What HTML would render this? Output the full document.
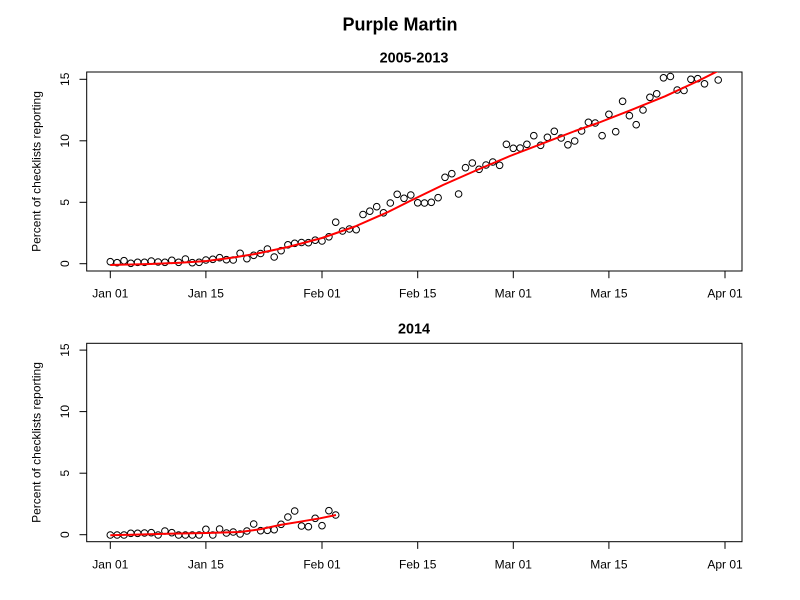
<!DOCTYPE html>
<html>
<head>
<meta charset="utf-8">
<style>
html,body{margin:0;padding:0;background:#fff;}
svg{display:block;}
text{font-family:"Liberation Sans",Arial,sans-serif;fill:#000;}
</style>
</head>
<body>
<svg width="800" height="600" viewBox="0 0 800 600" xmlns="http://www.w3.org/2000/svg">
<defs>
<clipPath id="c1"><rect x="86.7" y="72" width="655.3" height="199"/></clipPath>
<clipPath id="c2"><rect x="86.7" y="343.3" width="655.3" height="198.4"/></clipPath>
</defs>
<rect width="800" height="600" fill="#fff"/>
<text x="400" y="30.5" font-size="18" font-weight="bold" text-anchor="middle">Purple Martin</text>
<text x="414" y="62.3" font-size="14.4" font-weight="bold" text-anchor="middle">2005-2013</text>
<rect x="86.7" y="72" width="655.3" height="199" fill="none" stroke="#000" stroke-width="1"/>
<g stroke="#000" stroke-width="1">
<line x1="79.5" y1="263.7" x2="86.7" y2="263.7"/>
<line x1="79.5" y1="202.3" x2="86.7" y2="202.3"/>
<line x1="79.5" y1="140.8" x2="86.7" y2="140.8"/>
<line x1="79.5" y1="79.3" x2="86.7" y2="79.3"/>
<line x1="110.3" y1="271" x2="110.3" y2="278.2"/>
<line x1="205.9" y1="271" x2="205.9" y2="278.2"/>
<line x1="322" y1="271" x2="322" y2="278.2"/>
<line x1="417.7" y1="271" x2="417.7" y2="278.2"/>
<line x1="513.3" y1="271" x2="513.3" y2="278.2"/>
<line x1="608.9" y1="271" x2="608.9" y2="278.2"/>
<line x1="725" y1="271" x2="725" y2="278.2"/>
</g>
<g font-size="12" text-anchor="middle">
<text transform="translate(69,263.7) rotate(-90)">0</text>
<text transform="translate(69,202.3) rotate(-90)">5</text>
<text transform="translate(69,140.8) rotate(-90)">10</text>
<text transform="translate(69,79.3) rotate(-90)">15</text>
<text transform="translate(40.3,171.5) rotate(-90)">Percent of checklists reporting</text>
<text x="110.3" y="297.7">Jan 01</text>
<text x="205.9" y="297.7">Jan 15</text>
<text x="322" y="297.7">Feb 01</text>
<text x="417.7" y="297.7">Feb 15</text>
<text x="513.3" y="297.7">Mar 01</text>
<text x="608.9" y="297.7">Mar 15</text>
<text x="725" y="297.7">Apr 01</text>
</g>
<g fill="none" stroke="#000" stroke-width="1">
<circle cx="110.3" cy="261.7" r="3.3"/>
<circle cx="117.1" cy="262.7" r="3.3"/>
<circle cx="124.0" cy="260.7" r="3.3"/>
<circle cx="130.8" cy="263.3" r="3.3"/>
<circle cx="137.6" cy="262.3" r="3.3"/>
<circle cx="144.5" cy="262.3" r="3.3"/>
<circle cx="151.3" cy="261" r="3.3"/>
<circle cx="158.1" cy="262" r="3.3"/>
<circle cx="164.9" cy="262.3" r="3.3"/>
<circle cx="171.8" cy="260.3" r="3.3"/>
<circle cx="178.6" cy="262.3" r="3.3"/>
<circle cx="185.4" cy="259" r="3.3"/>
<circle cx="192.3" cy="262.7" r="3.3"/>
<circle cx="199.1" cy="262.3" r="3.3"/>
<circle cx="205.9" cy="260" r="3.3"/>
<circle cx="212.8" cy="259.3" r="3.3"/>
<circle cx="219.6" cy="257.7" r="3.3"/>
<circle cx="226.4" cy="259.7" r="3.3"/>
<circle cx="233.2" cy="260" r="3.3"/>
<circle cx="240.1" cy="253.3" r="3.3"/>
<circle cx="246.9" cy="258.7" r="3.3"/>
<circle cx="253.7" cy="255.3" r="3.3"/>
<circle cx="260.6" cy="253.5" r="3.3"/>
<circle cx="267.4" cy="249" r="3.3"/>
<circle cx="274.2" cy="257" r="3.3"/>
<circle cx="281.1" cy="250.7" r="3.3"/>
<circle cx="287.9" cy="244.8" r="3.3"/>
<circle cx="294.7" cy="243.3" r="3.3"/>
<circle cx="301.5" cy="242.5" r="3.3"/>
<circle cx="308.4" cy="242.7" r="3.3"/>
<circle cx="315.2" cy="240.2" r="3.3"/>
<circle cx="322.0" cy="241" r="3.3"/>
<circle cx="328.9" cy="236.8" r="3.3"/>
<circle cx="335.7" cy="222.2" r="3.3"/>
<circle cx="342.5" cy="231" r="3.3"/>
<circle cx="349.4" cy="229" r="3.3"/>
<circle cx="356.2" cy="229.7" r="3.3"/>
<circle cx="363.0" cy="214.5" r="3.3"/>
<circle cx="369.8" cy="211.2" r="3.3"/>
<circle cx="376.7" cy="206.7" r="3.3"/>
<circle cx="383.5" cy="212.8" r="3.3"/>
<circle cx="390.3" cy="203" r="3.3"/>
<circle cx="397.2" cy="194.3" r="3.3"/>
<circle cx="404.0" cy="198.3" r="3.3"/>
<circle cx="410.8" cy="195" r="3.3"/>
<circle cx="417.7" cy="202.8" r="3.3"/>
<circle cx="424.5" cy="203" r="3.3"/>
<circle cx="431.3" cy="202.3" r="3.3"/>
<circle cx="438.1" cy="197.7" r="3.3"/>
<circle cx="445.0" cy="177.3" r="3.3"/>
<circle cx="451.8" cy="173.7" r="3.3"/>
<circle cx="458.6" cy="194" r="3.3"/>
<circle cx="465.5" cy="167.7" r="3.3"/>
<circle cx="472.3" cy="163" r="3.3"/>
<circle cx="479.1" cy="169.3" r="3.3"/>
<circle cx="486.0" cy="165" r="3.3"/>
<circle cx="492.8" cy="162" r="3.3"/>
<circle cx="499.6" cy="165.3" r="3.3"/>
<circle cx="506.4" cy="144.3" r="3.3"/>
<circle cx="513.3" cy="148.3" r="3.3"/>
<circle cx="520.1" cy="148" r="3.3"/>
<circle cx="526.9" cy="144.3" r="3.3"/>
<circle cx="533.8" cy="135.7" r="3.3"/>
<circle cx="540.6" cy="145.3" r="3.3"/>
<circle cx="547.4" cy="137.3" r="3.3"/>
<circle cx="554.3" cy="131.3" r="3.3"/>
<circle cx="561.1" cy="138" r="3.3"/>
<circle cx="567.9" cy="144.8" r="3.3"/>
<circle cx="574.7" cy="141" r="3.3"/>
<circle cx="581.6" cy="131" r="3.3"/>
<circle cx="588.4" cy="122.3" r="3.3"/>
<circle cx="595.2" cy="123" r="3.3"/>
<circle cx="602.1" cy="135.7" r="3.3"/>
<circle cx="608.9" cy="114.3" r="3.3"/>
<circle cx="615.7" cy="131.7" r="3.3"/>
<circle cx="622.6" cy="101.3" r="3.3"/>
<circle cx="629.4" cy="115.7" r="3.3"/>
<circle cx="636.2" cy="124.7" r="3.3"/>
<circle cx="643.0" cy="110" r="3.3"/>
<circle cx="649.9" cy="97.3" r="3.3"/>
<circle cx="656.7" cy="93.8" r="3.3"/>
<circle cx="663.5" cy="77.8" r="3.3"/>
<circle cx="670.4" cy="76.5" r="3.3"/>
<circle cx="677.2" cy="90" r="3.3"/>
<circle cx="684.0" cy="90.5" r="3.3"/>
<circle cx="690.9" cy="79.3" r="3.3"/>
<circle cx="697.7" cy="78.7" r="3.3"/>
<circle cx="704.5" cy="83.8" r="3.3"/>
<circle cx="718.2" cy="80" r="3.3"/>
</g>
<path clip-path="url(#c1)" fill="none" stroke="#ff0000" stroke-width="2" stroke-linejoin="round" d="M110.3,265 L150,264 L180,262.7 L206.7,261 L233.3,257.5 L255,254 L288,247 L322,238 L355,226.5 L388,212 L410,201 L443,185 L477,170 L510,156 L543,143.3 L575,131 L598,123 L632,109.7 L665,96.3 L698,81 L722,69"/>
<text x="414" y="333.6" font-size="14.4" font-weight="bold" text-anchor="middle">2014</text>
<rect x="86.7" y="343.3" width="655.3" height="198.4" fill="none" stroke="#000" stroke-width="1"/>
<g stroke="#000" stroke-width="1">
<line x1="79.5" y1="534.7" x2="86.7" y2="534.7"/>
<line x1="79.5" y1="473.2" x2="86.7" y2="473.2"/>
<line x1="79.5" y1="411.6" x2="86.7" y2="411.6"/>
<line x1="79.5" y1="350.1" x2="86.7" y2="350.1"/>
<line x1="110.3" y1="541.7" x2="110.3" y2="548.9"/>
<line x1="205.9" y1="541.7" x2="205.9" y2="548.9"/>
<line x1="322" y1="541.7" x2="322" y2="548.9"/>
<line x1="417.7" y1="541.7" x2="417.7" y2="548.9"/>
<line x1="513.3" y1="541.7" x2="513.3" y2="548.9"/>
<line x1="608.9" y1="541.7" x2="608.9" y2="548.9"/>
<line x1="725" y1="541.7" x2="725" y2="548.9"/>
</g>
<g font-size="12" text-anchor="middle">
<text transform="translate(69,534.7) rotate(-90)">0</text>
<text transform="translate(69,473.2) rotate(-90)">5</text>
<text transform="translate(69,411.6) rotate(-90)">10</text>
<text transform="translate(69,350.1) rotate(-90)">15</text>
<text transform="translate(40.3,442.5) rotate(-90)">Percent of checklists reporting</text>
<text x="110.3" y="568.4">Jan 01</text>
<text x="205.9" y="568.4">Jan 15</text>
<text x="322" y="568.4">Feb 01</text>
<text x="417.7" y="568.4">Feb 15</text>
<text x="513.3" y="568.4">Mar 01</text>
<text x="608.9" y="568.4">Mar 15</text>
<text x="725" y="568.4">Apr 01</text>
</g>
<g fill="none" stroke="#000" stroke-width="1">
<circle cx="110.3" cy="535" r="3.3"/>
<circle cx="117.1" cy="535" r="3.3"/>
<circle cx="124.0" cy="535" r="3.3"/>
<circle cx="130.8" cy="533.3" r="3.3"/>
<circle cx="137.6" cy="533.3" r="3.3"/>
<circle cx="144.5" cy="533" r="3.3"/>
<circle cx="151.3" cy="532.7" r="3.3"/>
<circle cx="158.1" cy="535" r="3.3"/>
<circle cx="164.9" cy="531" r="3.3"/>
<circle cx="171.8" cy="532.7" r="3.3"/>
<circle cx="178.6" cy="535" r="3.3"/>
<circle cx="185.4" cy="535" r="3.3"/>
<circle cx="192.3" cy="535" r="3.3"/>
<circle cx="199.1" cy="535" r="3.3"/>
<circle cx="205.9" cy="529.3" r="3.3"/>
<circle cx="212.8" cy="535" r="3.3"/>
<circle cx="219.6" cy="529" r="3.3"/>
<circle cx="226.4" cy="533" r="3.3"/>
<circle cx="233.2" cy="532" r="3.3"/>
<circle cx="240.1" cy="534" r="3.3"/>
<circle cx="246.9" cy="531" r="3.3"/>
<circle cx="253.7" cy="524" r="3.3"/>
<circle cx="260.6" cy="530.7" r="3.3"/>
<circle cx="267.4" cy="530.3" r="3.3"/>
<circle cx="274.2" cy="529.7" r="3.3"/>
<circle cx="281.1" cy="524.3" r="3.3"/>
<circle cx="287.9" cy="517" r="3.3"/>
<circle cx="294.7" cy="511" r="3.3"/>
<circle cx="301.5" cy="526" r="3.3"/>
<circle cx="308.4" cy="526.7" r="3.3"/>
<circle cx="315.2" cy="518.3" r="3.3"/>
<circle cx="322.0" cy="525.7" r="3.3"/>
<circle cx="328.9" cy="510.7" r="3.3"/>
<circle cx="335.7" cy="515" r="3.3"/>
</g>
<path clip-path="url(#c2)" fill="none" stroke="#ff0000" stroke-width="2" stroke-linejoin="round" d="M110.3,535.3 L166.7,533.7 L206.7,533 L240,532 L260,529.3 L280,525 L300,521.7 L320,518.3 L336,515"/>
</svg>
</body>
</html>
